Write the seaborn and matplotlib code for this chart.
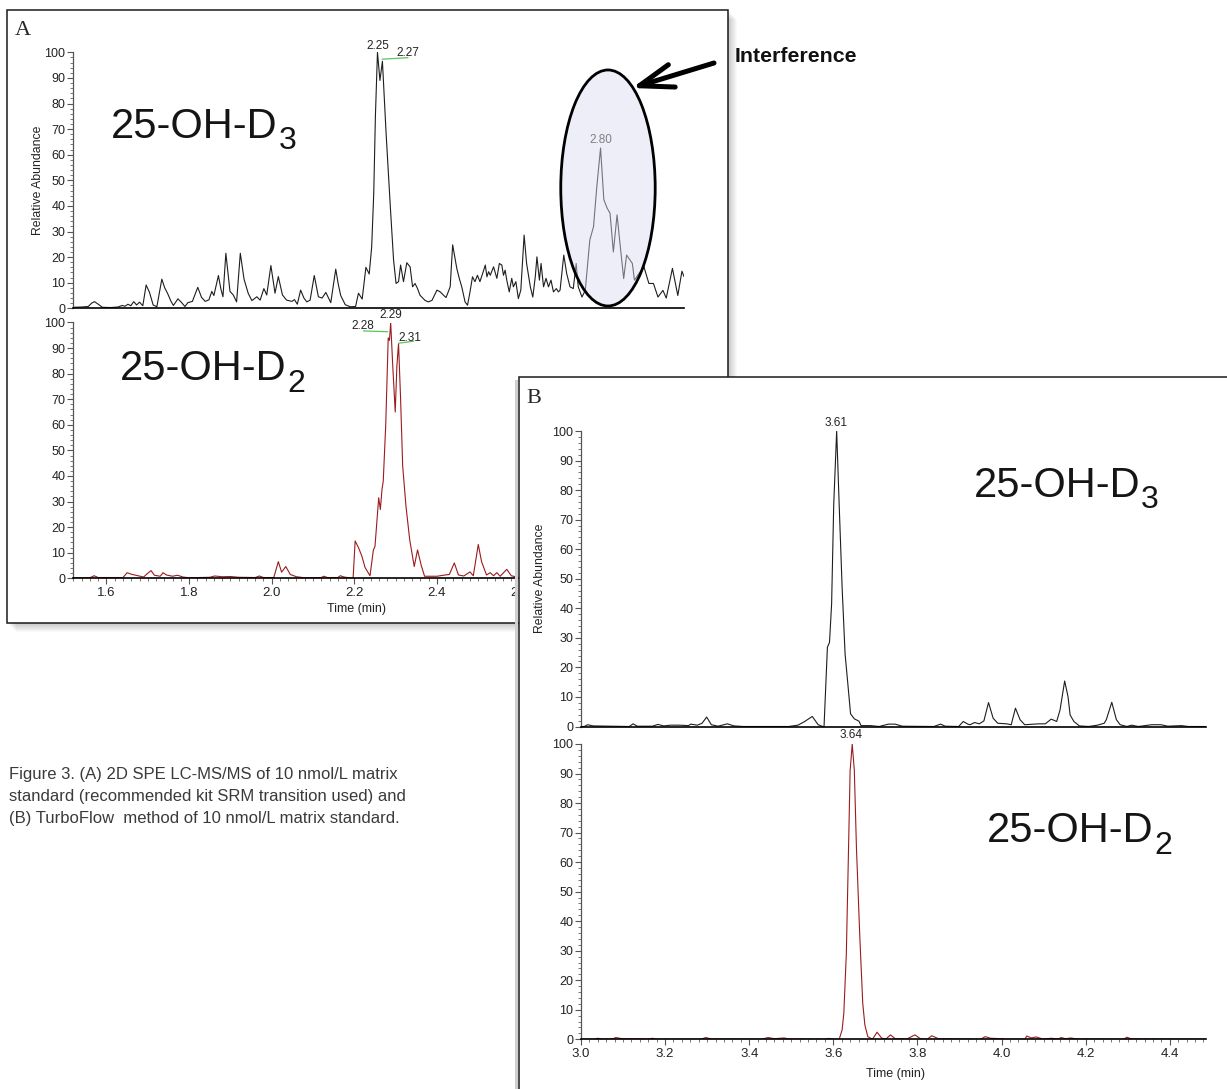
import matplotlib
matplotlib.use("Agg")
import matplotlib.pyplot as plt
import seaborn as sns
import pandas as pd
from matplotlib.patches import Rectangle, Ellipse, FancyArrowPatch
from matplotlib.ticker import MultipleLocator
from matplotlib import font_manager

# ---------------- data ----------------
# Panel A, upper trace: 25-OH-D3 (2D SPE LC-MS/MS)
a_d3_time = [1.519, 1.540, 1.556, 1.564, 1.571, 1.580, 1.590, 1.610, 1.628, 1.638, 1.645, 1.652, 1.659,
             1.666, 1.673, 1.680, 1.688, 1.696, 1.704, 1.713, 1.722, 1.734, 1.741, 1.748, 1.756, 1.762,
             1.773, 1.781, 1.790, 1.797, 1.808, 1.821, 1.830, 1.839, 1.848, 1.855, 1.860, 1.871, 1.877,
             1.882, 1.889, 1.894, 1.899, 1.907, 1.915, 1.924, 1.933, 1.943, 1.952, 1.964, 1.972, 1.981,
             1.988, 1.998, 2.008, 2.016, 2.026, 2.036, 2.049, 2.055, 2.062, 2.070, 2.078, 2.085, 2.093,
             2.103, 2.113, 2.122, 2.131, 2.143, 2.155, 2.161, 2.167, 2.178, 2.190, 2.203, 2.210, 2.219,
             2.228, 2.236, 2.242, 2.247, 2.251, 2.256, 2.262, 2.268, 2.277, 2.287, 2.295, 2.301, 2.307,
             2.312, 2.319, 2.327, 2.335, 2.341, 2.347, 2.353, 2.359, 2.371, 2.379, 2.388, 2.400, 2.408,
             2.416, 2.422, 2.432, 2.438, 2.448, 2.454, 2.460, 2.468, 2.474, 2.480, 2.486, 2.492, 2.498,
             2.504, 2.512, 2.517, 2.521, 2.525, 2.529, 2.537, 2.545, 2.551, 2.557, 2.561, 2.565, 2.569,
             2.575, 2.581, 2.585, 2.591, 2.597, 2.603, 2.611, 2.617, 2.626, 2.632, 2.638, 2.642, 2.648,
             2.652, 2.658, 2.664, 2.670, 2.676, 2.682, 2.689, 2.694, 2.698, 2.707, 2.714, 2.722, 2.730,
             2.737, 2.742, 2.751, 2.759, 2.770, 2.779, 2.787, 2.796, 2.804, 2.812, 2.819, 2.827, 2.836,
             2.844, 2.852, 2.859, 2.873, 2.878, 2.889, 2.901, 2.913, 2.924, 2.935, 2.947, 2.955, 2.970,
             2.983, 2.993, 2.998]
a_d3_abund = [0.4, 0.5, 0.7, 2.0, 2.6, 1.6, 0.4, 0.3, 0.5, 1.1, 0.8, 1.6, 1.0,
              2.6, 1.3, 2.4, 1.0, 9.1, 6.3, 1.3, 0.6, 11.4, 8.0, 5.8, 2.8, 1.1,
              3.7, 2.4, 0.7, 2.2, 2.7, 8.2, 4.3, 2.7, 3.3, 6.6, 5.0, 12.8, 7.5,
              4.5, 21.5, 14.0, 6.6, 5.2, 2.5, 21.5, 11.4, 5.9, 3.0, 4.5, 3.2, 7.7,
              5.2, 16.7, 5.9, 12.4, 5.2, 3.2, 2.7, 3.4, 1.6, 7.1, 4.0, 2.5, 3.2,
              12.8, 4.5, 4.0, 6.2, 2.2, 15.3, 9.5, 5.0, 1.4, 0.6, 0.7, 5.9, 3.6,
              16.0, 13.4, 24.0, 45.0, 75.0, 100.0, 89.0, 96.5, 68.0, 40.0, 18.8, 9.7, 10.4,
              16.9, 10.4, 17.8, 16.2, 8.4, 9.7, 7.7, 5.1, 3.1, 2.5, 3.1, 7.1, 6.4,
              5.1, 4.2, 8.4, 24.8, 15.6, 11.7, 8.4, 2.5, 1.2, 6.4, 12.3, 10.4, 12.9,
              10.4, 14.3, 16.9, 12.3, 14.3, 12.9, 16.2, 11.7, 17.5, 16.9, 12.9, 14.9, 11.0,
              6.4, 11.7, 8.4, 10.4, 3.8, 7.1, 28.6, 17.5, 8.4, 4.4, 12.3, 20.1, 11.0,
              17.5, 8.4, 11.7, 8.4, 11.0, 6.4, 7.7, 6.4, 7.1, 20.8, 13.6, 8.4, 7.7,
              17.5, 8.4, 4.4, 7.0, 26.7, 31.9, 47.6, 62.6, 42.4, 39.1, 37.1, 22.0, 36.5,
              23.8, 11.6, 20.8, 17.5, 11.0, 13.6, 16.2, 9.7, 9.7, 4.4, 7.0, 4.0, 15.6,
              5.0, 14.5, 12.4]

# Panel A, lower trace: 25-OH-D2
a_d2_time = [1.519, 1.560, 1.570, 1.580, 1.640, 1.650, 1.660, 1.690, 1.700, 1.708, 1.716, 1.730, 1.737,
             1.745, 1.760, 1.772, 1.785, 1.800, 1.850, 1.862, 1.880, 1.900, 1.920, 1.960, 1.970, 1.980,
             2.005, 2.016, 2.024, 2.034, 2.045, 2.060, 2.080, 2.120, 2.126, 2.135, 2.160, 2.166, 2.175,
             2.197, 2.202, 2.210, 2.218, 2.226, 2.238, 2.246, 2.250, 2.259, 2.263, 2.267, 2.270, 2.276,
             2.279, 2.282, 2.285, 2.288, 2.293, 2.299, 2.303, 2.307, 2.312, 2.317, 2.325, 2.334, 2.345,
             2.353, 2.362, 2.370, 2.400, 2.420, 2.430, 2.442, 2.452, 2.465, 2.480, 2.488, 2.500, 2.508,
             2.520, 2.529, 2.537, 2.545, 2.553, 2.569, 2.580, 2.600, 2.640]
a_d2_abund = [0.2, 0.2, 1.0, 0.3, 0.3, 2.2, 1.6, 0.5, 2.0, 3.0, 1.2, 0.8, 2.2,
              1.3, 0.8, 1.2, 0.5, 0.2, 0.4, 0.9, 0.6, 0.7, 0.4, 0.3, 0.9, 0.3,
              0.3, 6.5, 2.4, 4.6, 1.5, 0.6, 0.2, 0.3, 0.8, 0.3, 0.3, 1.0, 0.5,
              0.0, 14.6, 12.0, 8.8, 4.2, 1.0, 11.0, 12.5, 31.5, 26.9, 34.8, 38.0, 60.0,
              76.8, 94.0, 93.0, 100.0, 83.0, 65.0, 83.0, 91.8, 70.0, 44.0, 28.2, 15.1, 4.6,
              11.1, 5.0, 0.8, 0.8, 1.3, 1.5, 6.0, 1.3, 0.9, 2.5, 1.0, 13.2, 6.5,
              1.3, 2.2, 1.0, 2.2, 0.8, 3.5, 1.0, 0.2, 0.2]

# Panel B, upper trace: 25-OH-D3 (TurboFlow)
b_d3_time = [3.000, 3.008, 3.016, 3.029, 3.115, 3.124, 3.134, 3.170, 3.183, 3.197, 3.213, 3.234, 3.256,
             3.261, 3.277, 3.288, 3.299, 3.310, 3.326, 3.348, 3.364, 3.386, 3.494, 3.516, 3.532, 3.550,
             3.564, 3.575, 3.578, 3.586, 3.591, 3.596, 3.601, 3.608, 3.614, 3.621, 3.628, 3.636, 3.641,
             3.650, 3.661, 3.666, 3.688, 3.709, 3.731, 3.747, 3.764, 3.839, 3.855, 3.866, 3.898, 3.909,
             3.920, 3.925, 3.936, 3.947, 3.958, 3.969, 3.980, 3.991, 4.012, 4.023, 4.033, 4.044, 4.055,
             4.077, 4.088, 4.104, 4.118, 4.131, 4.139, 4.150, 4.158, 4.163, 4.172, 4.185, 4.207, 4.228,
             4.244, 4.249, 4.262, 4.273, 4.282, 4.298, 4.309, 4.325, 4.357, 4.379, 4.395, 4.428, 4.444,
             4.489]
b_d3_abund = [0.0, 0.0, 0.6, 0.2, 0.0, 0.9, 0.1, 0.1, 0.7, 0.2, 0.45, 0.45, 0.3,
              0.8, 0.45, 1.1, 3.2, 0.6, 0.1, 0.9, 0.2, 0.0, 0.0, 0.45, 1.7, 3.4,
              0.6, 0.0, 0.0, 26.8, 28.5, 41.5, 75.0, 100.0, 75.0, 47.0, 24.6, 12.2, 4.3,
              2.6, 1.8, 0.3, 0.3, 0.0, 0.8, 0.8, 0.1, 0.0, 0.8, 0.1, 0.0, 1.7,
              0.8, 0.6, 1.35, 0.9, 1.9, 8.1, 2.8, 1.1, 0.9, 0.6, 6.2, 2.3, 0.6,
              0.8, 0.9, 0.9, 2.5, 1.7, 5.6, 15.4, 10.1, 3.9, 1.7, 0.2, 0.0, 0.45,
              1.1, 2.3, 8.2, 2.3, 0.6, 0.0, 0.45, 0.0, 0.6, 0.6, 0.1, 0.3, 0.0,
              0.0]

# Panel B, lower trace: 25-OH-D2
b_d2_time = [3.000, 3.030, 3.040, 3.050, 3.075, 3.083, 3.098, 3.160, 3.170, 3.180, 3.285, 3.297, 3.310,
             3.430, 3.445, 3.460, 3.483, 3.494, 3.580, 3.589, 3.602, 3.614, 3.621, 3.625, 3.631, 3.636,
             3.640, 3.645, 3.650, 3.655, 3.663, 3.670, 3.675, 3.682, 3.693, 3.704, 3.715, 3.725, 3.736,
             3.747, 3.775, 3.794, 3.807, 3.823, 3.834, 3.850, 3.950, 3.961, 3.974, 4.000, 4.010, 4.055,
             4.060, 4.071, 4.082, 4.098, 4.118, 4.136, 4.141, 4.152, 4.165, 4.179, 4.290, 4.298, 4.309,
             4.489]
b_d2_abund = [0.0, 0.0, 0.35, 0.1, 0.1, 0.6, 0.2, 0.1, 0.35, 0.0, 0.0, 0.6, 0.1,
              0.0, 0.6, 0.2, 0.45, 0.1, 0.0, 0.3, 0.0, 0.0, 3.2, 8.8, 29.0, 63.0,
              91.0, 100.0, 91.0, 65.0, 34.8, 12.2, 4.9, 0.9, 0.0, 2.4, 0.4, 0.1, 1.5,
              0.2, 0.1, 1.5, 0.2, 0.0, 1.2, 0.2, 0.0, 0.9, 0.35, 0.2, 0.0, 0.0,
              1.1, 0.45, 0.8, 0.1, 0.35, 0.1, 0.6, 0.2, 0.45, 0.1, 0.0, 0.7, 0.1,
              0.0]

# peak labels: text, time, height of label centre
a_d3_peak_text = ["2.25", "2.27", "2.80"]
a_d3_peak_time = [2.256, 2.329, 2.797]
a_d3_peak_y = [102.6, 99.6, 65.7]
a_d2_peak_text = ["2.29", "2.28", "2.31"]
a_d2_peak_time = [2.288, 2.2205, 2.335]
a_d2_peak_y = [102.9, 98.7, 94.0]
b_d3_peak_text = ["3.61"]
b_d3_peak_time = [3.606]
b_d3_peak_y = [102.6]
b_d2_peak_text = ["3.64"]
b_d2_peak_time = [3.642]
b_d2_peak_y = [103.0]

caption_lines = ["Figure 3. (A) 2D SPE LC-MS/MS of 10 nmol/L matrix",
                 "standard (recommended kit SRM transition used) and",
                 "(B) TurboFlow  method of 10 nmol/L matrix standard."]

# ---------------- style ----------------
sns.set_style("ticks")
fams = {f.name for f in font_manager.fontManager.ttflist}
SANS = "Liberation Sans" if "Liberation Sans" in fams else "DejaVu Sans"
NARROW = "Liberation Sans Narrow" if "Liberation Sans Narrow" in fams else SANS
SERIF = "Liberation Serif" if "Liberation Serif" in fams else "DejaVu Serif"
plt.rcParams["font.family"] = [SANS, "DejaVu Sans"]

W, H = 1227, 1089
fig = plt.figure(figsize=(W / 100, H / 100), dpi=100)
fig.patch.set_facecolor("white")

BLACK_TRACE = "#1e1e1e"
RED_TRACE = "#9a1c1f"
GREEN = "#5ec45e"


def fx(x):
    return x / W


def fy(y):
    return 1 - y / H


def frame(x0, y0, x1, y1, z, shadow=True):
    if shadow:
        for k in range(1, 10):
            fig.add_artist(Rectangle((fx(x0 + k), fy(y1 + k)), (x1 - x0) / W, (y1 - y0) / H,
                                     transform=fig.transFigure, facecolor="black",
                                     edgecolor="none", alpha=0.022, zorder=z))
    fig.add_artist(Rectangle((fx(x0), fy(y1)), (x1 - x0) / W, (y1 - y0) / H,
                             transform=fig.transFigure, facecolor="white",
                             edgecolor="#1a1a1a", lw=1.1, zorder=z + 0.1))


def make_axes(l, r, t, b, z):
    ax = fig.add_axes([l / W, 1 - b / H, (r - l) / W, (b - t) / H], zorder=z)
    ax.set_facecolor("none")
    return ax


def style(ax, xlim, show_x):
    ax.set_xlim(*xlim)
    ax.set_ylim(0, 100)
    for s in ["top", "right"]:
        ax.spines[s].set_visible(False)
    ax.spines["left"].set_color("#555555")
    ax.spines["left"].set_linewidth(0.9)
    ax.spines["bottom"].set_color("black")
    ax.spines["bottom"].set_linewidth(1.2)
    ax.yaxis.set_major_locator(MultipleLocator(10))
    ax.yaxis.set_minor_locator(MultipleLocator(2))
    ax.tick_params(axis="y", which="major", length=4, width=0.8, color="#555555",
                   labelsize=9, pad=1.5, labelcolor="#222222")
    ax.tick_params(axis="y", which="minor", length=2.5, width=0.7, color="#777777")
    if show_x:
        ax.xaxis.set_major_locator(MultipleLocator(0.2))
        ax.xaxis.set_minor_locator(MultipleLocator(0.02))
        ax.tick_params(axis="x", which="major", length=4, width=0.8, color="#555555",
                       labelsize=9.5, pad=2.5, labelcolor="#222222")
        ax.tick_params(axis="x", which="minor", length=2.5, width=0.7, color="#777777")
    else:
        ax.tick_params(axis="x", which="both", bottom=False, labelbottom=False)
    ax.set_xlabel("")
    ax.set_ylabel("")


def trace(ax, t, y, color):
    df = pd.DataFrame({"Time (min)": t, "Relative Abundance": y})
    sns.lineplot(data=df, x="Time (min)", y="Relative Abundance", ax=ax, color=color,
                 lw=0.8, estimator=None, sort=False)


def peak_labels(ax, texts, times, ys, color="#222222", z=3):
    for s, t, y in zip(texts, times, ys):
        ax.text(t, y, s, ha="center", va="center", fontsize=8.5, color=color, zorder=z,
                clip_on=False)


def species(ax, t, y, main, sub):
    tx = ax.text(t, y, main, fontsize=30, va="baseline", ha="left", color="#151515")
    ax.annotate(sub, xy=(1, 0), xycoords=tx, xytext=(0.5, -2), textcoords="offset points",
                fontsize=23, va="baseline", ha="left", color="#151515")


A_XLIM = (1.519, 2.998)
B_XLIM = (3.0, 4.486)

# ---------------- panel A ----------------
frame(7, 10, 728, 623, z=-1)
fig.text(fx(15), fy(35), "A", family=SERIF, fontsize=16, va="baseline", ha="left")

ax_a1 = make_axes(73, 684, 52.3, 308.3, z=0)
trace(ax_a1, a_d3_time, a_d3_abund, BLACK_TRACE)
style(ax_a1, A_XLIM, show_x=False)
peak_labels(ax_a1, a_d3_peak_text[:2], a_d3_peak_time[:2], a_d3_peak_y[:2])
peak_labels(ax_a1, a_d3_peak_text[2:], a_d3_peak_time[2:], a_d3_peak_y[2:], color="#333333", z=2)
ax_a1.plot([2.267, 2.330], [97.3, 97.9], color=GREEN, lw=0.9, clip_on=False)
species(ax_a1, 1.611, 66.7, "25-OH-D", "3")
ax_a1.add_patch(Ellipse((2.814, 47.0), 0.2286, 92.2, facecolor=(0.86, 0.86, 0.94, 0.45),
                        edgecolor="black", lw=2.0, zorder=5, clip_on=False))

ax_a2 = make_axes(73, 684, 322.5, 578.3, z=0)
trace(ax_a2, a_d2_time, a_d2_abund, RED_TRACE)
style(ax_a2, A_XLIM, show_x=True)
peak_labels(ax_a2, a_d2_peak_text, a_d2_peak_time, a_d2_peak_y)
ax_a2.plot([2.222, 2.281], [96.7, 96.4], color=GREEN, lw=0.9, clip_on=False)
ax_a2.plot([2.307, 2.344], [91.9, 92.7], color=GREEN, lw=0.9, clip_on=False)
species(ax_a2, 1.633, 77.5, "25-OH-D", "2")

fig.text(fx(38), fy(180), "Relative Abundance", rotation=90, ha="center", va="center",
         fontsize=8.8, color="#222222")
fig.text(fx(356.6), fy(609), "Time (min)", ha="center", va="center", fontsize=9,
         color="#222222")

# Interference callout
fig.text(fx(735), fy(56), "Interference", ha="left", va="center", fontsize=15.3,
         fontweight="bold", color="#111111", zorder=4)
fig.add_artist(FancyArrowPatch((fx(714), fy(63)), (fx(632), fy(88)), transform=fig.transFigure,
                               arrowstyle="->,head_length=1.22,head_width=0.42",
                               mutation_scale=20, lw=3.6, color="black",
                               shrinkA=0, shrinkB=0, zorder=4))

# ---------------- panel B ----------------
frame(519, 377, 1240, 1100, z=1, shadow=False)
fig.add_artist(Rectangle((fx(515), fy(1100)), 3 / W, (1100 - 380) / H, transform=fig.transFigure,
                         facecolor="#cfcfcf", edgecolor="none", zorder=0.9))
fig.text(fx(526), fy(403), "B", family=SERIF, fontsize=16, va="baseline", ha="left", zorder=4)

ax_b1 = make_axes(580.9, 1206, 431, 726.5, z=2)
trace(ax_b1, b_d3_time, b_d3_abund, BLACK_TRACE)
style(ax_b1, B_XLIM, show_x=False)
peak_labels(ax_b1, b_d3_peak_text, b_d3_peak_time, b_d3_peak_y)
species(ax_b1, 3.934, 77.8, "25-OH-D", "3")

ax_b2 = make_axes(580.9, 1206, 744, 1039.3, z=2)
trace(ax_b2, b_d2_time, b_d2_abund, RED_TRACE)
style(ax_b2, B_XLIM, show_x=True)
peak_labels(ax_b2, b_d2_peak_text, b_d2_peak_time, b_d2_peak_y)
species(ax_b2, 3.966, 66.9, "25-OH-D", "2")

fig.text(fx(540), fy(578), "Relative Abundance", rotation=90, ha="center", va="center",
         fontsize=8.8, color="#222222", zorder=4)
fig.text(fx(896), fy(1074), "Time (min)", ha="center", va="center", fontsize=9,
         color="#222222", zorder=4)

# ---------------- caption ----------------
cap_size = 12.8 if NARROW != SANS else 12.0
for i, line in enumerate(caption_lines):
    fig.text(fx(9), fy(775 + 22 * i), line, family=[NARROW, "DejaVu Sans"], fontsize=cap_size,
             ha="left", va="center", color="#3a3a3a", zorder=4)

fig.savefig("out.png", dpi=100, facecolor="white")
